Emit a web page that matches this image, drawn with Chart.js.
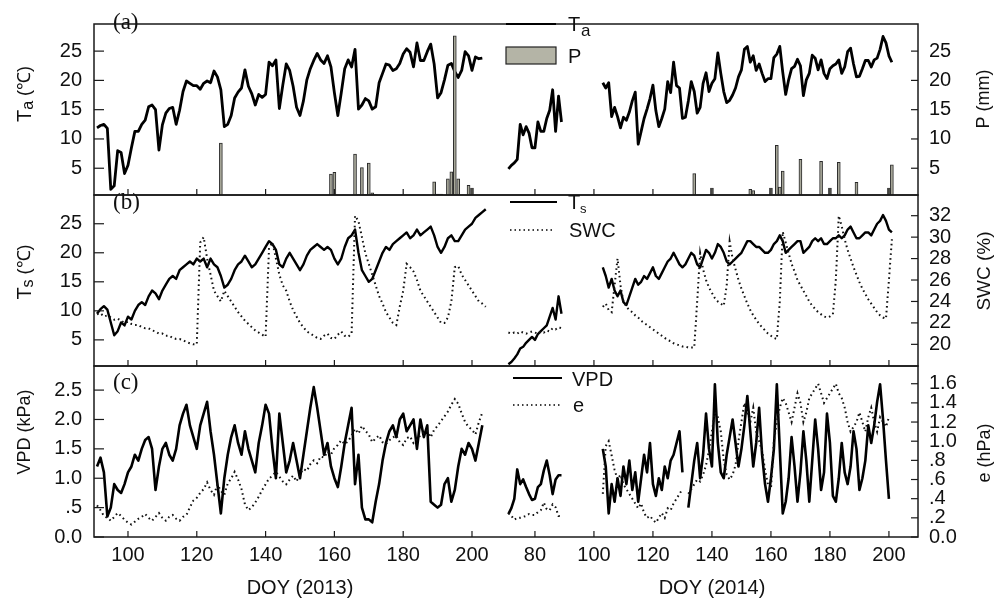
<!DOCTYPE html>
<html><head><meta charset="utf-8">
<script src="https://cdn.jsdelivr.net/npm/chart.js@4.4.0/dist/chart.umd.min.js"></script>
<style>html,body{margin:0;padding:0;background:#fff}#wrap{width:998px;height:601px;position:relative}</style>
</head><body><div id="wrap"><canvas id="c" width="998" height="601"></canvas></div>
<script>
// ---------- DATA ----------
// 2013 daily series start at DOY 91
const START13 = 91;
const ta13 = [11.9,12.3,12.5,11.8,1.4,2.0,8.0,7.7,4.1,5.5,8.5,11.3,11.3,12.5,13.2,15.5,15.8,15.0,8.1,12.4,14.4,15.2,15.4,12.5,14.9,18.1,19.9,19.5,19.1,19.1,18.5,19.5,19.9,19.6,21.6,20.6,18.4,12.1,12.5,14.0,17.0,18.0,18.7,21.8,19.0,17.7,15.8,17.6,17.1,17.6,23.1,22.5,23.5,15.2,19.2,22.8,21.7,19.0,15.4,14.0,16.5,20.1,22.0,23.4,24.6,23.5,22.9,24.2,22.3,17.9,14.0,17.9,22.0,23.5,22.3,25.3,15.1,15.8,16.9,16.5,15.1,15.5,19.6,21.2,22.8,22.6,21.7,22.0,22.9,24.5,25.4,24.8,22.3,26.4,23.4,23.4,24.9,26.2,22.8,17.0,17.9,20.1,22.6,22.9,21.5,20.5,21.7,24.9,24.2,21.7,24.0,23.7,23.8];
const ts13 = [9.5,10.3,10.8,10.2,8.0,5.8,6.5,8.0,7.5,9.0,8.5,10.0,11.0,11.5,11.0,12.5,13.5,13.0,12.0,13.5,14.5,15.5,16.0,15.5,17.0,17.5,18.0,18.5,18.0,19.0,18.5,19.0,17.5,19.0,18.0,17.5,16.0,14.0,14.5,15.5,17.0,18.0,18.5,19.5,18.5,17.5,18.0,19.0,20.0,21.0,22.0,21.5,20.5,18.0,17.5,19.0,20.0,19.0,18.0,17.0,18.0,19.5,20.5,21.0,21.5,21.0,20.5,21.0,20.5,19.0,18.0,19.0,21.0,22.5,23.0,24.0,20.0,17.0,16.0,15.0,15.5,17.0,18.5,20.0,21.0,20.5,21.5,22.0,22.5,23.0,23.5,22.5,23.0,24.0,23.0,23.5,24.0,24.5,23.0,21.0,20.0,21.0,22.5,23.0,22.0,22.0,23.0,24.0,24.5,25.0,26.0,26.5,27.0,27.5];
const swc13 = [22.8,22.9,22.6,22.7,22.5,22.3,22.4,22.2,22.0,22.1,21.9,21.8,21.8,21.6,21.5,21.5,21.3,21.2,21.0,21.0,20.8,20.8,20.6,20.5,20.5,20.4,20.2,20.1,20.0,20.0,29.5,30.0,28.0,26.5,25.0,24.5,24.0,25.0,24.5,24.0,23.5,23.0,22.6,22.2,21.9,21.6,21.3,21.1,20.9,20.7,29.0,29.5,28.0,26.5,25.5,25.0,24.0,23.2,22.6,22.0,21.6,21.2,21.0,20.8,20.6,20.5,20.8,21.0,20.6,20.5,20.9,21.2,20.8,20.7,21.0,32.0,31.5,30.0,28.5,27.5,26.5,25.5,24.5,23.8,23.0,22.5,22.0,21.8,23.5,25.0,27.5,27.2,26.8,26.0,25.0,24.5,24.0,23.5,23.0,22.5,22.0,22.0,22.5,24.0,27.2,27.3,26.5,26.0,25.5,25.0,24.5,24.0,23.8,23.5];
const vpd13 = [1.2,1.35,1.1,0.35,0.5,0.9,0.8,0.75,0.9,1.1,1.2,1.4,1.3,1.5,1.65,1.7,1.5,0.8,1.2,1.5,1.6,1.4,1.3,1.5,1.9,2.1,2.25,1.9,1.7,1.5,1.9,2.1,2.3,1.8,1.4,0.9,0.4,1.0,1.4,1.7,1.9,1.6,1.4,1.8,1.5,1.3,1.1,1.6,1.9,2.25,2.1,1.5,1.0,2.1,1.6,1.1,1.3,1.6,1.3,1.0,1.4,1.8,2.2,2.55,2.2,1.8,1.4,1.6,1.2,1.0,0.85,1.2,1.6,1.9,2.2,0.9,1.4,0.5,0.3,0.3,0.25,0.6,0.9,1.3,1.6,1.8,1.9,1.7,2.0,2.1,1.8,1.9,2.0,1.5,2.0,1.7,1.9,0.6,0.55,0.5,0.55,0.9,1.0,0.6,0.8,1.2,1.5,1.4,1.6,1.5,1.3,1.6,1.9];
const e13 = [0.33,0.28,0.22,0.2,0.17,0.21,0.25,0.22,0.18,0.15,0.13,0.16,0.19,0.21,0.24,0.2,0.17,0.21,0.25,0.2,0.17,0.21,0.23,0.19,0.17,0.21,0.23,0.31,0.38,0.41,0.46,0.5,0.57,0.49,0.44,0.55,0.48,0.44,0.56,0.61,0.68,0.6,0.5,0.34,0.28,0.31,0.36,0.42,0.49,0.55,0.61,0.64,0.68,0.63,0.58,0.55,0.6,0.64,0.58,0.66,0.71,0.69,0.76,0.8,0.77,0.84,0.83,0.89,0.86,0.93,0.96,1.01,0.97,1.0,1.06,1.13,1.08,1.16,1.11,1.07,0.99,1.03,1.06,0.99,0.97,1.01,1.04,1.06,0.99,0.96,1.03,1.05,0.98,1.02,1.06,1.09,1.11,1.04,1.12,1.16,1.21,1.26,1.31,1.38,1.44,1.39,1.29,1.2,1.15,1.12,1.07,1.2,1.3];
// precipitation 2013 [DOY, mm]
const p13Doy = [127,159,160,166,167,168,169,170,171,172,189,190,191,193,194,195,196,199,200];
const p13Val = [9.3,4.0,4.3,7.4,0.5,5.1,0.5,5.9,0.8,0.5,2.7,0.6,0.6,3.2,4.4,27.6,3.2,2.1,1.6];

// 2014: spring segment starts DOY 71, main segment starts DOY 103
const START14A = 71, START14B = 103;
const ta14a = [4.9,5.5,5.9,6.5,12.5,10.7,12.1,11.0,8.5,8.5,12.9,11.3,11.3,13.5,14.9,18.4,11.3,17.3,12.9];
const ta14b = [19.6,18.7,19.6,13.8,15.4,13.8,11.9,13.7,13.2,14.6,16.5,18.0,9.1,11.3,13.5,15.1,16.9,19.2,14.8,12.1,13.5,15.1,19.8,17.9,23.1,19.1,18.7,13.5,13.7,16.5,19.8,18.1,14.4,15.4,19.5,21.3,18.1,19.5,20.3,24.7,21.2,18.1,16.2,16.6,17.5,18.7,20.6,21.8,25.3,25.8,23.1,24.2,21.7,22.8,21.2,19.8,20.3,20.3,23.9,24.5,25.8,21.4,17.6,20.1,22.0,22.4,23.6,22.5,17.4,20.1,21.2,24.3,23.8,21.8,23.5,21.2,20.3,22.0,22.5,22.8,23.5,21.2,22.3,24.9,25.5,22.8,20.6,20.7,22.0,23.4,23.4,22.3,23.5,23.8,25.3,27.5,26.4,24.2,23.1];
const ts14a = [0.8,1.2,1.8,2.5,3.5,3.8,4.5,5.0,5.5,5.0,6.0,6.5,7.0,7.5,9.0,10.5,8.5,12.5,9.5];
const ts14b = [17.5,16.0,14.0,15.5,13.5,12.5,13.5,11.5,11.0,12.5,14.0,15.5,14.5,15.0,16.0,15.5,16.5,17.5,16.0,15.5,16.5,17.5,18.5,19.0,20.0,19.0,18.0,17.5,18.0,19.0,20.0,19.5,18.0,17.5,19.0,20.5,20.0,19.0,20.0,21.5,21.0,20.0,18.5,18.0,18.5,19.0,19.5,20.0,21.0,22.0,22.0,21.5,21.0,21.0,20.5,20.0,20.0,20.5,21.5,22.0,23.0,22.0,20.0,20.5,21.0,21.5,22.0,22.0,20.0,20.5,21.0,22.0,22.5,22.0,22.5,21.5,21.5,22.0,22.5,22.5,23.0,22.5,23.0,24.0,24.5,23.5,22.5,22.5,23.0,23.5,23.5,23.0,24.0,25.0,25.5,26.5,25.5,24.0,23.5];
const swc14a = [21.1,21.0,21.1,21.0,21.2,21.1,21.0,21.1,21.2,21.1,21.0,21.2,21.1,21.3,21.2,21.5,21.4,21.6,21.5];
const swc14b = [23.5,23.8,23.2,23.0,25.5,28.0,25.5,24.0,23.5,23.2,23.0,22.7,22.5,22.2,22.0,21.8,21.6,21.4,21.2,21.0,20.8,20.6,20.4,20.3,20.1,20.0,19.9,19.8,19.8,19.7,19.7,19.7,24.0,28.5,27.0,26.0,25.3,24.8,24.3,24.0,23.8,23.6,25.5,29.6,28.0,27.0,26.0,25.2,24.5,23.8,23.2,22.7,22.3,21.9,21.6,21.3,21.0,20.8,20.6,20.5,24.0,30.5,29.5,28.5,27.5,26.8,26.0,25.5,25.0,24.5,24.0,23.6,23.3,23.0,22.8,22.6,22.5,22.6,22.8,26.0,32.0,31.0,29.8,28.8,28.0,27.2,26.5,25.8,25.2,24.7,24.2,23.8,23.4,23.0,22.7,22.5,22.4,26.0,29.8];
const vpd14a = [0.39,0.49,0.65,1.15,0.9,0.98,0.85,0.73,0.63,0.65,0.85,0.9,1.13,1.3,1.05,0.73,0.98,1.05,1.05];
const vpd14b = [1.5,1.2,0.4,0.9,0.6,1.0,0.7,1.2,0.9,1.3,0.8,1.1,0.6,1.0,1.4,1.1,1.6,0.9,0.7,1.0,0.8,1.2,1.0,1.3,1.4,1.6,1.8,1.1,null,0.5,0.9,1.3,1.6,1.0,1.4,2.1,1.5,1.2,2.6,1.6,1.1,1.0,1.4,1.7,2.0,1.6,1.2,1.5,1.9,2.4,1.8,1.2,1.6,2.2,1.4,0.9,0.6,1.0,1.5,2.6,1.5,0.4,0.6,1.0,1.7,1.2,0.6,1.1,1.8,1.3,0.6,1.3,2.0,1.5,0.8,1.1,2.1,1.6,0.7,0.6,1.0,1.6,1.1,0.9,1.2,1.8,1.5,0.8,1.0,1.3,1.9,1.6,1.9,2.3,2.6,2.0,1.3,0.65];
const e14a = [0.25,0.22,0.18,0.2,0.2,0.21,0.22,0.24,0.23,0.23,0.26,0.28,0.36,0.29,0.28,0.34,0.31,0.22,0.22];
const e14b = [0.45,0.95,1.0,0.85,0.7,0.6,0.65,0.55,0.5,0.45,0.4,0.35,0.3,0.35,0.25,0.2,0.22,0.18,0.15,0.2,0.25,0.2,0.3,0.28,0.35,0.4,0.45,0.5,null,0.45,0.5,0.55,0.6,0.58,0.65,0.75,0.9,1.1,1.3,1.25,1.1,0.8,0.65,0.6,0.65,0.75,1.0,1.2,1.4,1.3,1.2,1.35,1.1,1.0,0.9,0.7,0.55,0.5,1.0,1.2,1.35,1.45,1.4,1.3,1.2,1.35,1.5,1.4,1.2,1.3,1.45,1.5,1.55,1.6,1.5,1.4,1.45,1.5,1.55,1.6,1.5,1.45,1.35,1.2,1.1,1.15,1.2,1.3,1.2,1.1,1.25,1.35,1.2,1.1,1.25,1.2,1.15,1.25];
const p14Doy = [134,140,153,154,160,162,163,164,170,177,180,183,189,200,201];
const p14Val = [4.1,1.6,1.4,1.2,1.6,8.9,1.8,4.5,6.5,6.2,1.6,6.0,2.6,1.6,5.6];

// tick labels
const xTicks13 = [100,120,140,160,180,200];
const xTicks14 = [80,100,120,140,160,180,200];
const taTicks = [5,10,15,20,25];
const pTicks = [5,10,15,20,25];
const tsTicks = [5,10,15,20,25];
const swcTicks = [20,22,24,26,28,30,32];
const vpdTicks = [0,0.5,1.0,1.5,2.0,2.5];
const eTicks = [0,0.2,0.4,0.6,0.8,1.0,1.2,1.4,1.6];

// ---------- position mapping of the split time axis ----------
const X13 = d => d;
const X14 = d => 218.3 + (d - 80) * 0.8575;
const fromX = v => v < 210 ? Math.round(v) : Math.round((v - 218.3) / 0.8575 + 80);
function series(start, vals, fx) { return vals.map((v, i) => ({x: fx(start + i), y: v})); }
function bars(days, vals, fx) { return days.map((d, i) => ({x: fx(d), y: vals[i]})); }

const FONT = "'Liberation Sans', Arial, Helvetica, sans-serif";
const solid = (data, axis, w) => ({type:'line', data, yAxisID: axis, borderColor:'#000', borderWidth: w, pointRadius:0, tension:0, spanGaps:false, borderJoinStyle:'round'});
const dotted = (data, axis) => ({type:'line', data, yAxisID: axis, borderColor:'#111', borderWidth: 2, borderDash:[1.6,3.2], pointRadius:0, tension:0, spanGaps:false});
const barDs = (data) => ({type:'bar', data, yAxisID:'yaR', backgroundColor:'#a8a89a', borderColor:'#2a2a2a', borderWidth:1, barThickness:3, grouped:false});

const fmtDec = v => v === 0 ? '0.0' : (v < 1 ? ('.' + String(Math.round(v*10))) : v.toFixed(1));

function yAxis(pos, weight, min, max, ticks, fmt, pad) {
  return {
    type:'linear', position: pos, stack: pos === 'left' ? 'L' : 'R', stackWeight: 1, weight,
    min, max, offset:false,
    afterBuildTicks: s => { s.ticks = ticks.map(v => ({value: v})); },
    afterFit: s => { s.width = pos === 'left' ? 94 : 80; },
    grid: {display:false, drawTicks:false}, border:{display:false},
    ticks: {font:{family:FONT, size:20}, color:'#111', padding: pad, callback: fmt || (v => String(v)), autoSkip:false}
  };
}

const deco = {
  id: 'deco',
  afterDraw(chart) {
    const ctx = chart.ctx, ca = chart.chartArea, s = chart.scales;
    ctx.save();
    const line = (x1,y1,x2,y2) => { ctx.beginPath(); ctx.moveTo(x1,y1); ctx.lineTo(x2,y2); ctx.stroke(); };
    // frames
    ctx.strokeStyle = '#1a1a1a'; ctx.lineWidth = 1.5;
    ['ya','yb','yc'].forEach(id => ctx.strokeRect(ca.left, s[id].top, ca.right - ca.left, s[id].bottom - s[id].top));
    // inward y ticks
    ctx.lineWidth = 1.2;
    ['ya','yb','yc'].forEach(id => s[id].ticks.forEach(t => { const y = s[id].getPixelForValue(t.value); line(ca.left, y, ca.left + 10, y); }));
    ['yaR','ybR','ycR'].forEach(id => s[id].ticks.forEach(t => { const y = s[id].getPixelForValue(t.value); line(ca.right - 7, y, ca.right, y); }));
    // inward x ticks at bottom of every panel
    ['ya','yb','yc'].forEach(id => s.x.ticks.forEach(t => { const x = s.x.getPixelForValue(t.value); line(x, s[id].bottom, x, s[id].bottom - 6); }));
    ctx.fillStyle = '#111';
    // panel labels
    ctx.font = "23px 'Liberation Serif', 'Times New Roman', serif";
    ctx.textAlign = 'left'; ctx.textBaseline = 'alphabetic';
    ctx.fillText('(a)', 113, 29);
    ctx.fillText('(b)', 113, 209);
    ctx.fillText('(c)', 113, 389);
    // x titles
    ctx.font = "20px " + FONT; ctx.textAlign = 'center';
    ctx.fillText('DOY (2013)', 300, 594);
    ctx.fillText('DOY (2014)', 712, 594);
    // rotated axis titles with subscripts
    function vtitle(cx, cy, parts) {
      ctx.save(); ctx.translate(cx, cy); ctx.rotate(-Math.PI / 2);
      let w = 0; parts.forEach(p => { ctx.font = p.size + 'px ' + FONT; w += ctx.measureText(p.t).width; });
      let x = -w / 2; ctx.textAlign = 'left'; ctx.textBaseline = 'middle';
      parts.forEach(p => { ctx.font = p.size + 'px ' + FONT; ctx.fillText(p.t, x, p.dy || 0); x += ctx.measureText(p.t).width; });
      ctx.restore();
    }
    vtitle(25, 94, [{t:'T', size:20}, {t:'a', size:16, dy:4}, {t:' (℃)', size:18}]);
    vtitle(25, 272, [{t:'T', size:20}, {t:'s', size:16, dy:4}, {t:' (℃)', size:18}]);
    vtitle(25, 432, [{t:'VPD (kPa)', size:18}]);
    vtitle(984, 99, [{t:'P (mm)', size:18}]);
    vtitle(985, 271, [{t:'SWC (%)', size:19}]);
    vtitle(985, 453, [{t:'e (hPa)', size:18}]);
    // legends
    ctx.textAlign = 'left'; ctx.textBaseline = 'alphabetic';
    ctx.strokeStyle = '#000'; ctx.lineWidth = 2; ctx.setLineDash([]);
    line(506, 24, 556, 24);
    ctx.font = '20px ' + FONT; ctx.fillText('T', 568, 31);
    ctx.font = '17px ' + FONT; ctx.fillText('a', 581, 36);
    ctx.fillStyle = '#b4b4a6'; ctx.fillRect(506, 47, 50, 17);
    ctx.strokeStyle = '#222'; ctx.lineWidth = 1.2; ctx.strokeRect(506, 47, 50, 17);
    ctx.fillStyle = '#111'; ctx.font = '20px ' + FONT; ctx.fillText('P', 568, 63);
    ctx.strokeStyle = '#000'; ctx.lineWidth = 2;
    line(510, 202, 557, 202);
    ctx.font = '20px ' + FONT; ctx.fillText('T', 568, 209);
    ctx.font = '13px ' + FONT; ctx.fillText('s', 580, 213);
    ctx.font = '20px ' + FONT; ctx.fillText('SWC', 569, 237);
    ctx.setLineDash([1.5, 3]); ctx.lineWidth = 1.5; line(510, 230, 555, 230);
    ctx.setLineDash([]); ctx.lineWidth = 2; line(513, 378, 562, 378);
    ctx.fillText('VPD', 572, 386);
    ctx.setLineDash([1.5, 3]); ctx.lineWidth = 1.5; line(513, 405, 560, 405);
    ctx.setLineDash([]); ctx.fillText('e', 573, 412);
    ctx.restore();
  }
};

new Chart(document.getElementById('c'), {
  type: 'line',
  data: { datasets: [
    barDs(bars(p13Doy, p13Val, X13)),
    barDs(bars(p14Doy, p14Val, X14)),
    solid(series(START13, ta13, X13), 'ya', 2.8),
    solid(series(START14A, ta14a, X14), 'ya', 2.8),
    solid(series(START14B, ta14b, X14), 'ya', 2.8),
    dotted(series(START13, swc13, X13), 'ybR'),
    dotted(series(START14A, swc14a, X14), 'ybR'),
    dotted(series(START14B, swc14b, X14), 'ybR'),
    solid(series(START13, ts13, X13), 'yb', 2.4),
    solid(series(START14A, ts14a, X14), 'yb', 2.4),
    solid(series(START14B, ts14b, X14), 'yb', 2.4),
    dotted(series(START13, e13, X13), 'ycR'),
    dotted(series(START14A, e14a, X14), 'ycR'),
    dotted(series(START14B, e14b, X14), 'ycR'),
    solid(series(START13, vpd13, X13), 'yc', 2.6),
    solid(series(START14A, vpd14a, X14), 'yc', 2.6),
    solid(series(START14B, vpd14b, X14), 'yc', 2.6)
  ]},
  options: {
    responsive:false, animation:false, devicePixelRatio:1,
    layout: {padding: {top:7, left:0, right:0, bottom:0}},
    plugins: {legend:{display:false}, tooltip:{enabled:false}},
    scales: {
      x: {type:'linear', min:90.12, max:329.65, offset:false,
          afterBuildTicks: s => { s.ticks = xTicks13.map(X13).concat(xTicks14.map(X14)).map(v => ({value:v})); },
          afterFit: s => { s.height = 64; },
          grid:{display:false, drawTicks:false, offset:false}, border:{display:false},
          ticks:{font:{family:FONT, size:20}, color:'#111', padding:6, maxRotation:0, autoSkip:false, callback: v => String(fromX(v))}},
      ya: yAxis('left', 3, 0.43, 29.63, taTicks, null, 12),
      yb: yAxis('left', 2, 0.5, 29.95, tsTicks, null, 12),
      yc: yAxis('left', 1, 0, 2.91, vpdTicks, fmtDec, 12),
      yaR: yAxis('right', 1, 0.43, 29.63, pTicks, null, 11),
      ybR: yAxis('right', 2, 17.98, 33.93, swcTicks, null, 11),
      ycR: yAxis('right', 3, 0, 1.785, eTicks, fmtDec, 11)
    }
  },
  plugins: [deco]
});
</script></body></html>
